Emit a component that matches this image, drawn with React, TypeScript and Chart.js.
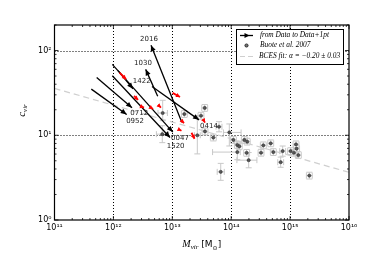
import React, { useEffect, useRef } from 'react';
import { Chart, registerables } from 'chart.js';

Chart.register(...registerables);

// ---- Black arrows: groups, from Data to Data+1pt ----
const groupNames = ['2016', '1030', '1422', '0712', '0952', '0047', '1520', '0414'];
const groupMassData = [1.45e13, 5.65e12, 1.2e12, 5.2e11, 4.22e11, 9.58e11, 9.58e11, 4.52e12];
const groupConcData = [14.2, 28.9, 57.8, 48.1, 35.0, 68.7, 50.4, 37.6];
const groupMassPlus1 = [4.35e12, 3.53e12, 2.15e12, 2.07e12, 1.68e12, 1.02e13, 9.14e12, 2.84e13];
const groupConcPlus1 = [115.6, 59.9, 35.3, 21.1, 17.6, 10.9, 9.4, 15.2];
const groupLabelMass = [4.02e12, 3.18e12, 3.02e12, 2.75e12, 2.33e12, 1.35e13, 1.14e13, 4.2e13];
const groupLabelConc = [135, 71, 43.6, 18.1, 14.8, 9.14, 7.33, 12.9];

// ---- Red short arrows ----
const redMassData = [1.27e12, 2.24e12, 2.83e12, 4.18e12, 5.71e12, 1.01e13, 1.41e13, 1.32e13, 2.12e13, 3.32e13];
const redConcData = [54.7, 29.1, 22.1, 21.5, 22.8, 31.6, 15.1, 11.6, 10.7, 15.5];
const redMassPlus1 = [1.64e12, 2.62e12, 3.31e12, 4.7e12, 6.43e12, 1.35e13, 1.58e13, 1.43e13, 2.38e13, 3.59e13];
const redConcPlus1 = [45.8, 26.1, 21.2, 20.4, 21.2, 28.3, 13.9, 11.3, 9.09, 14.1];

// ---- Buote et al. 2007 ----
const buoteMass = [6.76e12, 6.87e12, 1.6e13, 3.07e13, 3.55e13, 2.66e13, 3.59e13, 6.21e13, 4.97e13, 9.29e13, 1.09e14, 1.27e14, 1.37e14, 1.27e14, 1.67e14, 1.87e14, 1.83e14, 1.98e14, 3.51e14, 3.21e14, 4.69e14, 5.19e14, 6.92e14, 7.48e14, 1.02e15, 1.26e15, 1.29e15, 1.38e15, 1.16e15, 2.12e15, 6.64e13];
const buoteConc = [10.3, 18.3, 17.8, 17.0, 21.0, 10.0, 11.1, 12.6, 9.4, 10.8, 8.8, 7.67, 7.4, 6.33, 8.8, 8.4, 6.2, 5.08, 7.6, 6.22, 8.03, 6.33, 4.81, 6.5, 6.5, 7.81, 6.94, 5.83, 6.22, 3.34, 3.7];
const massErrLoDex = [0.10, 0.08, 0.05, 0.05, 0.05, 0.05, 0.05, 0.05, 0.05, 0.10, 0.05, 0.05, 0.05, 0.42, 0.05, 0.05, 0.05, 0.20, 0.05, 0.05, 0.05, 0.05, 0.05, 0.05, 0.05, 0.05, 0.05, 0.05, 0.05, 0.05, 0.06];
const massErrHiDex = [0.10, 0.08, 0.05, 0.05, 0.05, 0.05, 0.05, 0.05, 0.05, 0.20, 0.05, 0.05, 0.05, 0.05, 0.05, 0.05, 0.05, 0.14, 0.05, 0.05, 0.05, 0.05, 0.05, 0.05, 0.05, 0.05, 0.05, 0.05, 0.05, 0.05, 0.06];
const concErrLoDex = [0.10, 0.09, 0.04, 0.04, 0.04, 0.22, 0.04, 0.06, 0.04, 0.16, 0.04, 0.04, 0.04, 0.09, 0.04, 0.04, 0.04, 0.09, 0.04, 0.04, 0.04, 0.04, 0.06, 0.06, 0.04, 0.04, 0.04, 0.04, 0.04, 0.04, 0.10];
const concErrHiDex = [0.10, 0.15, 0.04, 0.04, 0.04, 0.23, 0.04, 0.06, 0.04, 0.10, 0.04, 0.04, 0.04, 0.09, 0.04, 0.04, 0.04, 0.09, 0.04, 0.04, 0.04, 0.04, 0.06, 0.06, 0.04, 0.04, 0.04, 0.04, 0.04, 0.04, 0.10];

// ---- BCES fit line endpoints ----
const fitMass = [1e11, 1e16];
const fitConc = [35.7, 3.65];

// ---- Axis ticks ----
const xMajorTicks = [1e11, 1e12, 1e13, 1e14, 1e15, 1e16];
const yMajorTicks = [1, 10, 100];

const SUP = '⁰¹²³⁴⁵⁶⁷⁸⁹';
const supText = (n: number) => String(n).split('').map((d) => SUP[+d]).join('');
const powLabel = (v: number) => {
  const e = Math.log10(v);
  if (Math.abs(e - Math.round(e)) < 1e-6) return '10' + supText(Math.round(e));
  return '';
};

const SERIF_IT = 'italic ';
function drawRuns(ctx: CanvasRenderingContext2D, runs: { t: string; f: string; dy: number }[], cx: number, cy: number) {
  let total = 0;
  runs.forEach((r) => { ctx.font = r.f; total += ctx.measureText(r.t).width; });
  let x = cx - total / 2;
  ctx.textAlign = 'left';
  ctx.textBaseline = 'alphabetic';
  runs.forEach((r) => { ctx.font = r.f; ctx.fillText(r.t, x, cy + r.dy); x += ctx.measureText(r.t).width; });
}

function arrowHead(ctx: CanvasRenderingContext2D, x0: number, y0: number, x1: number, y1: number, len: number, half: number) {
  const a = Math.atan2(y1 - y0, x1 - x0);
  const c = Math.cos(a), s = Math.sin(a);
  ctx.beginPath();
  ctx.moveTo(x1, y1);
  ctx.lineTo(x1 - len * c + half * s, y1 - len * s - half * c);
  ctx.lineTo(x1 - len * c - half * s, y1 - len * s + half * c);
  ctx.closePath();
  ctx.fill();
}

const customPlugin = {
  id: 'customDraw',
  beforeDatasetsDraw(chart: any) {
    const { ctx, chartArea: a, scales } = chart;
    const x = scales.x, y = scales.y;
    ctx.save();
    // dotted grid
    ctx.strokeStyle = '#000';
    ctx.lineWidth = 1;
    ctx.setLineDash([1, 2]);
    xMajorTicks.slice(1, -1).forEach((v) => {
      const px = Math.round(x.getPixelForValue(v)) + 0.5;
      ctx.beginPath(); ctx.moveTo(px, a.top); ctx.lineTo(px, a.bottom); ctx.stroke();
    });
    yMajorTicks.slice(1).forEach((v) => {
      const py = Math.round(y.getPixelForValue(v)) + 0.5;
      ctx.beginPath(); ctx.moveTo(a.left, py); ctx.lineTo(a.right, py); ctx.stroke();
    });
    ctx.setLineDash([]);
    // error bars
    ctx.beginPath();
    ctx.rect(a.left, a.top, a.right - a.left, a.bottom - a.top);
    ctx.clip();
    ctx.strokeStyle = '#c8c8c8';
    ctx.lineWidth = 1;
    const cap = 3;
    buoteMass.forEach((m, i) => {
      const c = buoteConc[i];
      const px = x.getPixelForValue(m), py = y.getPixelForValue(c);
      const x0 = x.getPixelForValue(m / Math.pow(10, massErrLoDex[i]));
      const x1 = x.getPixelForValue(m * Math.pow(10, massErrHiDex[i]));
      const y0 = y.getPixelForValue(c / Math.pow(10, concErrLoDex[i]));
      const y1 = y.getPixelForValue(c * Math.pow(10, concErrHiDex[i]));
      ctx.beginPath();
      ctx.moveTo(x0, py); ctx.lineTo(x1, py);
      ctx.moveTo(px, y0); ctx.lineTo(px, y1);
      ctx.moveTo(x0, py - cap); ctx.lineTo(x0, py + cap);
      ctx.moveTo(x1, py - cap); ctx.lineTo(x1, py + cap);
      ctx.moveTo(px - cap, y0); ctx.lineTo(px + cap, y0);
      ctx.moveTo(px - cap, y1); ctx.lineTo(px + cap, y1);
      ctx.stroke();
    });
    ctx.restore();
  },
  afterDatasetsDraw(chart: any) {
    const { ctx, chartArea: a, scales } = chart;
    const x = scales.x, y = scales.y;
    ctx.save();
    // arrow heads
    chart.data.datasets.forEach((ds: any, i: number) => {
      if (!ds.arrowKind) return;
      const meta = chart.getDatasetMeta(i);
      const p0 = meta.data[0], p1 = meta.data[1];
      ctx.fillStyle = ds.borderColor;
      if (ds.arrowKind === 'black') arrowHead(ctx, p0.x, p0.y, p1.x, p1.y, 6, 2.6);
      else arrowHead(ctx, p0.x, p0.y, p1.x, p1.y, 4, 2.2);
    });
    // group labels
    ctx.fillStyle = '#222';
    ctx.font = '7px "DejaVu Sans"';
    ctx.textAlign = 'center';
    ctx.textBaseline = 'middle';
    groupNames.forEach((n, i) => {
      ctx.fillText(n, x.getPixelForValue(groupLabelMass[i]), y.getPixelForValue(groupLabelConc[i]));
    });
    // frame
    ctx.strokeStyle = '#000';
    ctx.lineWidth = 1.2;
    ctx.strokeRect(a.left, a.top, a.right - a.left, a.bottom - a.top);
    // inward ticks
    ctx.lineWidth = 0.8;
    ctx.beginPath();
    for (let d = 11; d <= 16; d++) {
      for (let k = 1; k <= 9; k++) {
        const v = k * Math.pow(10, d);
        if (v > 1e16 * 1.0001) break;
        const px = x.getPixelForValue(v);
        const L = k === 1 ? 4 : 2;
        ctx.moveTo(px, a.bottom); ctx.lineTo(px, a.bottom - L);
        ctx.moveTo(px, a.top); ctx.lineTo(px, a.top + L);
      }
    }
    for (let d = 0; d <= 2; d++) {
      for (let k = 1; k <= 9; k++) {
        const v = k * Math.pow(10, d);
        if (v > 200) break;
        const py = y.getPixelForValue(v);
        const L = k === 1 ? 4 : 2;
        ctx.moveTo(a.left, py); ctx.lineTo(a.left + L, py);
        ctx.moveTo(a.right, py); ctx.lineTo(a.right - L, py);
      }
    }
    ctx.stroke();
    // axis titles
    ctx.fillStyle = '#000';
    drawRuns(ctx, [
      { t: 'M', f: SERIF_IT + '10px "Liberation Serif"', dy: 0 },
      { t: 'vir', f: SERIF_IT + '7px "Liberation Serif"', dy: 2 },
      { t: ' [M', f: '9px "DejaVu Sans"', dy: 0 },
      { t: '⊙', f: '6px "DejaVu Sans"', dy: 2.5 },
      { t: ']', f: '9px "DejaVu Sans"', dy: 0 },
    ], (a.left + a.right) / 2, 247);
    ctx.save();
    ctx.translate(25, (a.top + a.bottom) / 2 - 12);
    ctx.rotate(-Math.PI / 2);
    drawRuns(ctx, [
      { t: 'c', f: SERIF_IT + '11px "Liberation Serif"', dy: 0 },
      { t: 'vir', f: SERIF_IT + '7px "Liberation Serif"', dy: 2 },
    ], 0, 0);
    ctx.restore();
    // legend
    const lx = 236, ly = 29, lw = 107, lh = 35;
    ctx.fillStyle = '#fff';
    ctx.fillRect(lx, ly, lw, lh);
    ctx.strokeStyle = '#000';
    ctx.lineWidth = 1;
    ctx.strokeRect(lx + 0.5, ly + 0.5, lw, lh);
    const rows = [ly + 6.5, ly + 16.5, ly + 27.5];
    // row 1: arrow handle
    ctx.strokeStyle = '#000';
    ctx.lineWidth = 1.3;
    ctx.beginPath(); ctx.moveTo(240, rows[0]); ctx.lineTo(253, rows[0]); ctx.stroke();
    ctx.fillStyle = '#000';
    arrowHead(ctx, 240, rows[0], 249.5, rows[0], 5, 2.4);
    // row 2: marker
    ctx.beginPath(); ctx.arc(246.5, rows[1], 1.6, 0, Math.PI * 2);
    ctx.fillStyle = '#777'; ctx.fill();
    ctx.strokeStyle = '#000'; ctx.lineWidth = 0.7; ctx.stroke();
    // row 3: dashed line
    ctx.strokeStyle = '#cfcfcf';
    ctx.lineWidth = 1.2;
    ctx.setLineDash([5, 3]);
    ctx.beginPath(); ctx.moveTo(240, rows[2]); ctx.lineTo(254, rows[2]); ctx.stroke();
    ctx.setLineDash([]);
    ctx.fillStyle = '#000';
    ctx.font = SERIF_IT + '7.4px "Liberation Serif"';
    ctx.textAlign = 'left';
    ctx.textBaseline = 'middle';
    ctx.fillText('from Data to Data+1pt', 260, rows[0]);
    ctx.fillText('Buote et al. 2007', 260, rows[1]);
    ctx.fillText('BCES fit: α = −0.20 ± 0.03', 259, rows[2]);
    ctx.restore();
  },
};

export default function App() {
  const ref = useRef<HTMLCanvasElement>(null);
  useEffect(() => {
    const canvas = ref.current;
    if (!canvas) return;
    const datasets: any[] = [];
    redMassData.forEach((m, i) => {
      datasets.push({
        type: 'line',
        label: 'red' + i,
        data: [{ x: m, y: redConcData[i] }, { x: redMassPlus1[i], y: redConcPlus1[i] }],
        borderColor: '#ff0000',
        borderWidth: 1.8,
        pointRadius: 0,
        showLine: true,
        fill: false,
        arrowKind: 'red',
        order: 0,
      });
    });
    groupNames.forEach((n, i) => {
      datasets.push({
        type: 'line',
        label: n,
        data: [{ x: groupMassData[i], y: groupConcData[i] }, { x: groupMassPlus1[i], y: groupConcPlus1[i] }],
        borderColor: '#000000',
        borderWidth: 1.3,
        pointRadius: 0,
        showLine: true,
        fill: false,
        arrowKind: 'black',
        order: 1,
      });
    });
    datasets.push({
      type: 'scatter',
      label: 'Buote et al. 2007',
      data: buoteMass.map((m, i) => ({ x: m, y: buoteConc[i] })),
      pointRadius: 1.6,
      backgroundColor: '#555555',
      borderColor: '#222222',
      borderWidth: 0.5,
      order: 2,
    });
    datasets.push({
      type: 'line',
      label: 'BCES fit',
      data: fitMass.map((m, i) => ({ x: m, y: fitConc[i] })),
      borderColor: '#cfcfcf',
      borderWidth: 1.2,
      borderDash: [6, 4],
      pointRadius: 0,
      showLine: true,
      fill: false,
      order: 3,
    });
    const tickFont = { family: '"DejaVu Sans"', size: 8 };
    const chart = new Chart(canvas, {
      type: 'scatter',
      data: { datasets },
      options: {
        responsive: false,
        animation: false,
        devicePixelRatio: 1,
        layout: { padding: { left: 0, top: 25, right: 38, bottom: 0 } },
        plugins: { legend: { display: false }, tooltip: { enabled: false } },
        scales: {
          x: {
            type: 'logarithmic',
            min: 1e11,
            max: 1e16,
            grid: { display: false, drawTicks: false },
            border: { display: false },
            ticks: {
              autoSkip: false,
              maxRotation: 0,
              minRotation: 0,
              padding: 3,
              color: '#000',
              font: tickFont,
              callback: (v: any) => powLabel(Number(v)),
            },
            afterFit: (s: any) => { s.height = 46; },
          },
          y: {
            type: 'logarithmic',
            min: 1,
            max: 200,
            grid: { display: false, drawTicks: false },
            border: { display: false },
            ticks: {
              autoSkip: false,
              padding: 3,
              color: '#000',
              font: tickFont,
              callback: (v: any) => powLabel(Number(v)),
            },
            afterFit: (s: any) => { s.width = 54.5; },
          },
        },
      } as any,
      plugins: [customPlugin as any],
    });
    return () => chart.destroy();
  }, []);
  return (
    <div style={{ position: 'fixed', left: 0, top: 0, width: 387, height: 266, background: '#fff' }}>
      <canvas ref={ref} width={387} height={266} style={{ display: 'block' }} />
    </div>
  );
}
